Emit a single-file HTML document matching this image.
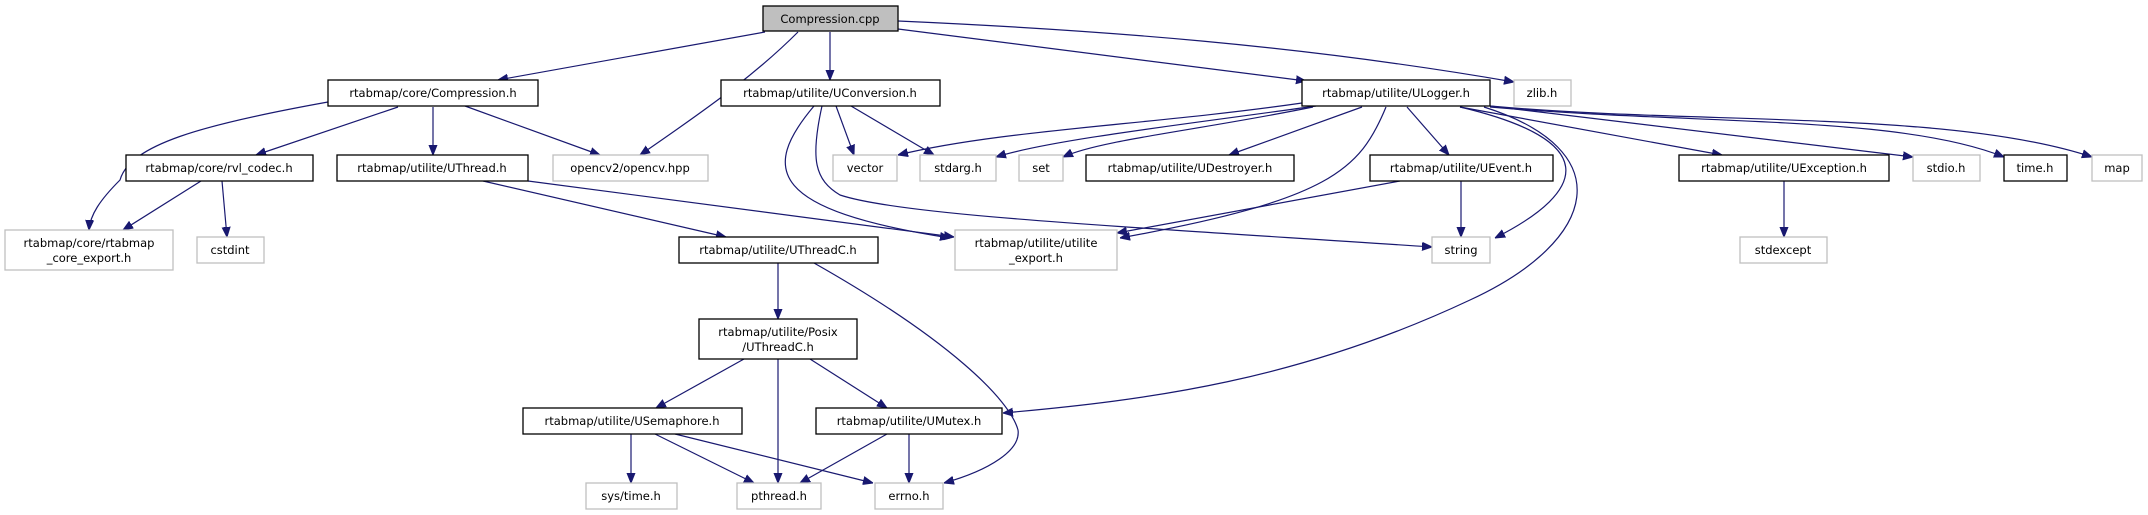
<!DOCTYPE html>
<html><head><meta charset="utf-8"><style>
html,body{margin:0;padding:0;background:#fff;}
svg{display:block;}
text{font-family:"DejaVu Sans","Liberation Sans",sans-serif;font-size:11.5px;fill:#000;text-anchor:middle;}
.d{fill:#fff;stroke:#000;stroke-width:1.3;}
.g{fill:#fff;stroke:#bfbfbf;stroke-width:1.3;}
.e{fill:none;stroke:#191970;stroke-width:1.2;}
</style></head><body>
<svg width="2148" height="515" viewBox="0 0 2148 515" xmlns="http://www.w3.org/2000/svg">
<defs><marker id="a" viewBox="0 0 10 10" refX="10" refY="5" markerWidth="10" markerHeight="10" markerUnits="userSpaceOnUse" orient="auto"><path d="M0,1 L10,5 L0,9 z" fill="#191970" stroke="#191970"/></marker></defs>
<g marker-end="url(#a)">
<path class="e" d="M765,32 L498,80"/>
<path class="e" d="M798,32 C760,70 720,100 640,155"/>
<path class="e" d="M830,32 L830,80"/>
<path class="e" d="M898,29 L1306,81"/>
<path class="e" d="M898,21 C1100,30 1300,45 1514,82"/>
<path class="e" d="M328,102 C200,125 130,145 120,180 C100,200 90,215 89,230"/>
<path class="e" d="M398,107 L256,155"/>
<path class="e" d="M433,107 L433,155"/>
<path class="e" d="M465,106 L600,155"/>
<path class="e" d="M201,181 L123,230"/>
<path class="e" d="M222,181 L227,237"/>
<path class="e" d="M483,181 L726,237"/>
<path class="e" d="M528,181 L954,237"/>
<path class="e" d="M814,106 C760,170 770,210 950,238"/>
<path class="e" d="M822,106 C810,160 815,180 840,195 C900,215 1100,225 1432,247"/>
<path class="e" d="M836,106 L854,155"/>
<path class="e" d="M851,106 L934,155"/>
<path class="e" d="M1302,103 C1150,125 1000,130 898,155"/>
<path class="e" d="M1316,106 C1180,125 1050,140 996,157"/>
<path class="e" d="M1313,107 C1200,130 1100,140 1063,157"/>
<path class="e" d="M1362,107 L1229,155"/>
<path class="e" d="M1386,107 C1360,170 1330,200 1120,238"/>
<path class="e" d="M1407,107 L1449,155"/>
<path class="e" d="M1460,107 C1600,140 1590,190 1495,238"/>
<path class="e" d="M1484,107 C1620,150 1600,240 1470,300 C1300,380 1150,400 1003,413"/>
<path class="e" d="M1460,107 L1722,155"/>
<path class="e" d="M1490,106 L1913,157"/>
<path class="e" d="M1490,107 C1700,125 1900,115 2004,157"/>
<path class="e" d="M1490,106 C1700,125 1950,110 2092,157"/>
<path class="e" d="M1400,181 L1117,233"/>
<path class="e" d="M1461,181 L1461,237"/>
<path class="e" d="M1784,181 L1784,237"/>
<path class="e" d="M778,263 L778,319"/>
<path class="e" d="M814,263 C950,340 1010,400 1018,430 C1021,450 990,470 944,483"/>
<path class="e" d="M744,359 L656,408"/>
<path class="e" d="M778,359 L778,483"/>
<path class="e" d="M810,359 L887,408"/>
<path class="e" d="M631,434 L631,483"/>
<path class="e" d="M655,434 L754,483"/>
<path class="e" d="M675,434 L873,483"/>
<path class="e" d="M887,434 L800,483"/>
<path class="e" d="M909,434 L909,483"/>
</g>
<rect x="763" y="6" width="135" height="25" fill="#bfbfbf" stroke="#000" stroke-width="1.3"/><text x="830" y="23">Compression.cpp</text>
<rect class="d" x="328" y="80" width="210" height="26"/><text x="433" y="97">rtabmap/core/Compression.h</text>
<rect class="d" x="721" y="80" width="219" height="26"/><text x="830" y="97">rtabmap/utilite/UConversion.h</text>
<rect class="d" x="1302" y="80" width="188" height="26"/><text x="1396" y="97">rtabmap/utilite/ULogger.h</text>
<rect class="g" x="1514" y="80" width="57" height="26"/><text x="1542" y="97">zlib.h</text>
<rect class="d" x="126" y="155" width="187" height="26"/><text x="219" y="172">rtabmap/core/rvl_codec.h</text>
<rect class="d" x="337" y="155" width="191" height="26"/><text x="432" y="172">rtabmap/utilite/UThread.h</text>
<rect class="g" x="553" y="155" width="155" height="26"/><text x="630" y="172">opencv2/opencv.hpp</text>
<rect class="g" x="833" y="155" width="64" height="26"/><text x="865" y="172">vector</text>
<rect class="g" x="920" y="155" width="76" height="26"/><text x="958" y="172">stdarg.h</text>
<rect class="g" x="1019" y="155" width="44" height="26"/><text x="1041" y="172">set</text>
<rect class="d" x="1086" y="155" width="208" height="26"/><text x="1190" y="172">rtabmap/utilite/UDestroyer.h</text>
<rect class="d" x="1370" y="155" width="183" height="26"/><text x="1461" y="172">rtabmap/utilite/UEvent.h</text>
<rect class="d" x="1679" y="155" width="210" height="26"/><text x="1784" y="172">rtabmap/utilite/UException.h</text>
<rect class="g" x="1913" y="155" width="67" height="26"/><text x="1946" y="172">stdio.h</text>
<rect class="d" x="2004" y="155" width="63" height="26"/><text x="2035" y="172">time.h</text>
<rect class="g" x="2092" y="155" width="50" height="26"/><text x="2117" y="172">map</text>
<rect class="g" x="5" y="230" width="168" height="40"/><text x="89" y="247">rtabmap/core/rtabmap</text><text x="89" y="262">_core_export.h</text>
<rect class="g" x="197" y="237" width="67" height="26"/><text x="230" y="254">cstdint</text>
<rect class="d" x="679" y="237" width="199" height="26"/><text x="778" y="254">rtabmap/utilite/UThreadC.h</text>
<rect class="g" x="955" y="230" width="162" height="40"/><text x="1036" y="247">rtabmap/utilite/utilite</text><text x="1036" y="262">_export.h</text>
<rect class="g" x="1432" y="237" width="58" height="26"/><text x="1461" y="254">string</text>
<rect class="g" x="1740" y="237" width="87" height="26"/><text x="1783" y="254">stdexcept</text>
<rect class="d" x="699" y="319" width="158" height="40"/><text x="778" y="336">rtabmap/utilite/Posix</text><text x="778" y="351">/UThreadC.h</text>
<rect class="d" x="523" y="408" width="219" height="26"/><text x="632" y="425">rtabmap/utilite/USemaphore.h</text>
<rect class="d" x="816" y="408" width="186" height="26"/><text x="909" y="425">rtabmap/utilite/UMutex.h</text>
<rect class="g" x="586" y="483" width="91" height="26"/><text x="631" y="500">sys/time.h</text>
<rect class="g" x="737" y="483" width="84" height="26"/><text x="779" y="500">pthread.h</text>
<rect class="g" x="875" y="483" width="68" height="26"/><text x="909" y="500">errno.h</text>
</svg>
</body></html>
